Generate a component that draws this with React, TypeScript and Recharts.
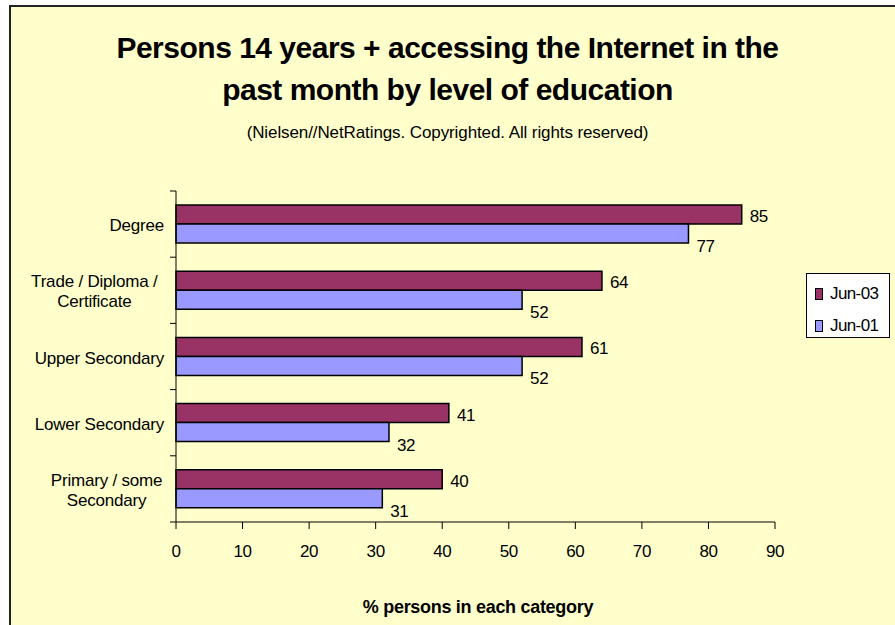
import { BarChart, Bar, XAxis, YAxis, LabelList } from "recharts";

const categories = [
  "Degree",
  "Trade / Diploma / Certificate",
  "Upper Secondary",
  "Lower Secondary",
  "Primary / some Secondary",
];
const categoryLines: Record<string, string[]> = {
  "Trade / Diploma / Certificate": ["Trade / Diploma /", "Certificate"],
  "Primary / some Secondary": ["Primary / some", "Secondary"],
};
const jun03 = [85, 64, 61, 41, 40];
const jun01 = [77, 52, 52, 32, 31];
const xTicks = [0, 10, 20, 30, 40, 50, 60, 70, 80, 90];
const seriesNames = ["Jun-03", "Jun-01"];
const seriesColors = ["#993366", "#9999FF"];

const data = categories.map((name, i) => ({ name, jun03: jun03[i], jun01: jun01[i] }));

const FONT = "'Liberation Sans', Arial, sans-serif";
const W = 895;
const H = 625;
const Y_AXIS_W = 176;
const margin = { top: 191, right: 120, bottom: 73, left: 0 };
const xAxisHeight = 30;
const plotH = H - margin.top - margin.bottom - xAxisHeight;
const band = plotH / categories.length;

function CategoryTick(props: any) {
  const { y, payload, index } = props;
  const ax = Y_AXIS_W;
  const lines = categoryLines[payload.value] || [payload.value];
  const longest = Math.max(...lines.map((l: string) => l.length));
  const right = ax - 12;
  const cx = lines.length > 1 ? right - (longest * 8.2) / 2 : right;
  const anchor = lines.length > 1 ? "middle" : "end";
  const startY = y + 1 - ((lines.length - 1) * 20) / 2;
  return (
    <g>
      <line x1={ax - 6} x2={ax} y1={y - band / 2} y2={y - band / 2} stroke="#000" />
      {index === categories.length - 1 && (
        <line x1={ax - 6} x2={ax} y1={y + band / 2} y2={y + band / 2} stroke="#000" />
      )}
      <text
        x={cx}
        y={startY}
        textAnchor={anchor}
        dominantBaseline="central"
        fontFamily={FONT}
        fontSize={17}
        letterSpacing={-0.2}
        fill="#000"
      >
        {lines.map((l: string, i: number) => (
          <tspan key={i} x={cx} dy={i === 0 ? 0 : 20}>
            {l}
          </tspan>
        ))}
      </text>
    </g>
  );
}

const makeLabel = (dy: number) => (props: any) => {
  const { x, y, width, height, value } = props;
  return (
    <text
      x={x + width + 8}
      y={y + height / 2 + dy}
      dominantBaseline="central"
      fontFamily={FONT}
      fontSize={17}
      letterSpacing={-0.4}
      fill="#000"
    >
      {value}
    </text>
  );
};

function LegendBox() {
  return (
    <div
      style={{
        position: "absolute",
        left: 806,
        top: 273,
        width: 84,
        height: 65,
        border: "1px solid #000",
        background: "#fff",
        boxSizing: "border-box",
        fontFamily: FONT,
        fontSize: 17,
        letterSpacing: -0.6,
        paddingTop: 8,
      }}
    >
      {seriesNames.map((label, i) => (
        <div key={label} style={{ display: "flex", alignItems: "center", height: 23, marginBottom: 9 }}>
          <span
            style={{
              display: "inline-block",
              width: 6,
              height: 10,
              background: seriesColors[i],
              border: "1px solid #000",
              marginLeft: 8,
              marginRight: 7,
            }}
          />
          <span>{label}</span>
        </div>
      ))}
    </div>
  );
}

export default function App() {
  return (
    <div style={{ position: "fixed", left: 0, top: 0, width: W, height: H, background: "#fff", overflow: "hidden" }}>
      <div
        style={{
          position: "absolute",
          left: 9,
          top: 5,
          width: 920,
          height: 660,
          background: "#FFFFCC",
          border: "2px solid #222",
        }}
      />
      <div
        style={{
          position: "absolute",
          left: 0,
          top: 27,
          width: W,
          textAlign: "center",
          fontFamily: FONT,
          fontWeight: "bold",
          fontSize: 30,
          letterSpacing: -0.5,
          lineHeight: "42px",
          color: "#000",
        }}
      >
        <div>Persons 14 years + accessing the Internet in the</div>
        <div>past month by level of education</div>
      </div>
      <div
        style={{
          position: "absolute",
          left: 0,
          top: 122,
          width: W,
          textAlign: "center",
          fontFamily: FONT,
          fontSize: 17,
          letterSpacing: -0.1,
          lineHeight: "22px",
          color: "#000",
        }}
      >
        (Nielsen//NetRatings. Copyrighted. All rights reserved)
      </div>
      <div style={{ position: "absolute", left: 0, top: 0 }}>
        <BarChart
          width={W}
          height={H}
          data={data}
          layout="vertical"
          margin={margin}
          barSize={19}
          barGap={0}
        >
          <XAxis
            type="number"
            domain={[0, 90]}
            ticks={xTicks}
            height={xAxisHeight}
            axisLine={{ stroke: "#000" }}
            tickLine={{ stroke: "#000" }}
            tickSize={7}
            tickMargin={16}
            interval={0}
            tick={{ fill: "#000", fontFamily: FONT, fontSize: 17, letterSpacing: -0.4 }}
          />
          <YAxis
            type="category"
            dataKey="name"
            width={Y_AXIS_W}
            axisLine={{ stroke: "#000" }}
            tickLine={false}
            interval={0}
            tick={<CategoryTick />}
          />
          <Bar dataKey="jun03" name={seriesNames[0]} fill={seriesColors[0]} stroke="#000" strokeWidth={1.5} isAnimationActive={false}>
            <LabelList dataKey="jun03" content={makeLabel(2)} />
          </Bar>
          <Bar dataKey="jun01" name={seriesNames[1]} fill={seriesColors[1]} stroke="#000" strokeWidth={1.5} isAnimationActive={false}>
            <LabelList dataKey="jun01" content={makeLabel(13)} />
          </Bar>
        </BarChart>
      </div>
      <LegendBox />
      <div
        style={{
          position: "absolute",
          left: 359,
          top: 596,
          width: 238,
          textAlign: "center",
          fontFamily: FONT,
          fontWeight: "bold",
          fontSize: 18,
          letterSpacing: -0.3,
          lineHeight: "22px",
          whiteSpace: "nowrap",
          color: "#000",
        }}
      >
        % persons in each category
      </div>
    </div>
  );
}
